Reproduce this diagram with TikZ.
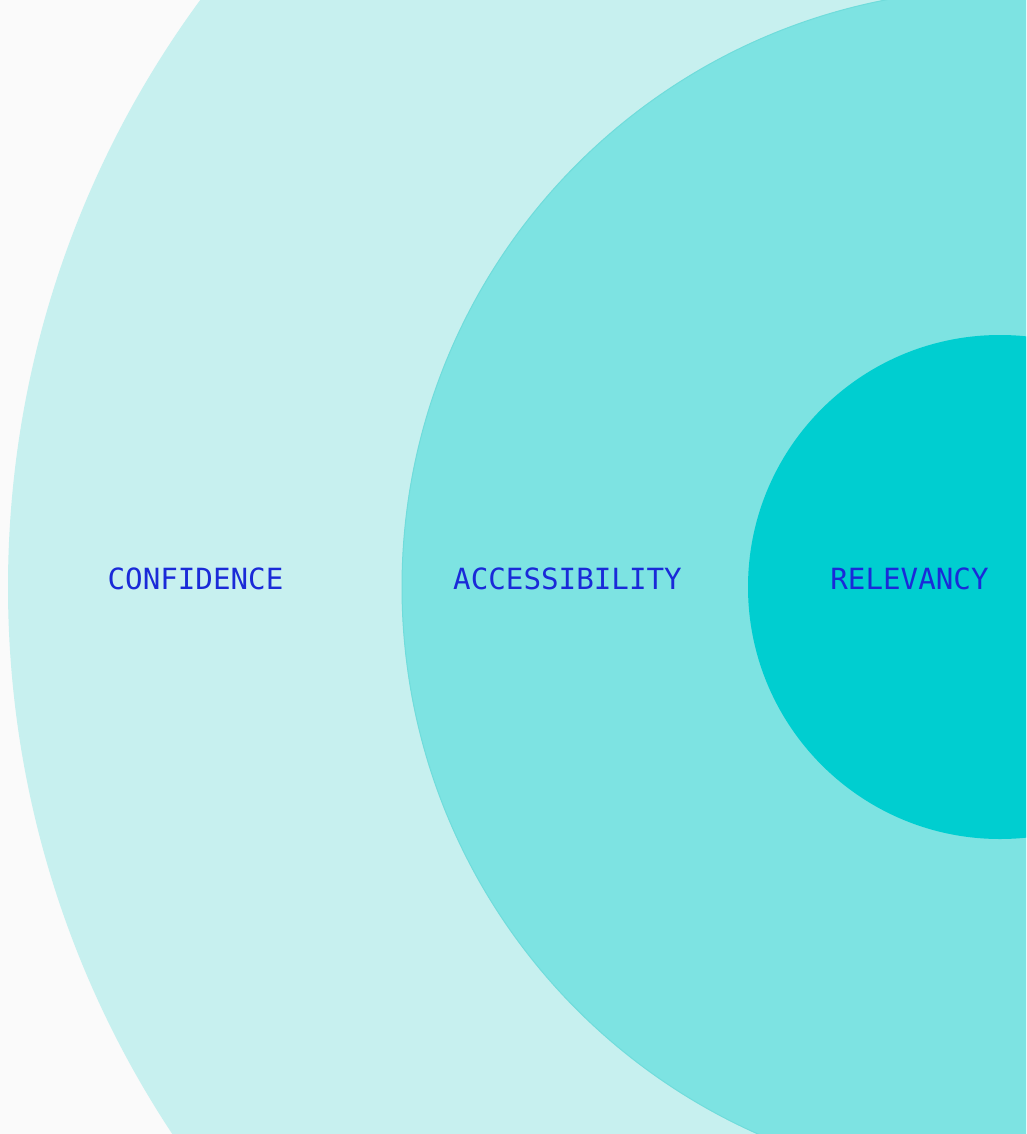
\documentclass[tikz,border=0pt]{standalone}
\usepackage{fontspec}
\setmonofont{DejaVu Sans Mono}
\definecolor{bgcol}{HTML}{FAFAFA}
\definecolor{ring1}{HTML}{C7F0EF}
\definecolor{ring2}{HTML}{7DE3E2}
\definecolor{ring2edge}{HTML}{70DCDB}
\definecolor{ring3}{HTML}{00CED0}
\definecolor{labcol}{HTML}{1A2AD8}
\tikzset{lab/.style={anchor=base, text=labcol, font=\ttfamily\fontsize{29.2}{31}\selectfont, inner sep=0pt}}
\begin{document}
\begin{tikzpicture}[x=1pt,y=-1pt]
\useasboundingbox (0,0) rectangle (1026,1134);
\clip (0,0) rectangle (1026,1134);
\fill[bgcol] (0,0) rectangle (1026,1134);
\coordinate (c) at (1000,587);
\fill[ring1] (c) circle[radius=992pt];
\fill[ring2, draw=ring2edge, line width=1pt] (c) circle[radius=598pt];
\fill[ring3] (c) circle[radius=252pt];
\node[lab] (conf) at (195.5,589) {CONFIDENCE};
\node[lab] (acc) at (567.5,589) {ACCESSIBILITY};
\node[lab] (rel) at (909.5,589) {RELEVANCY};
\end{tikzpicture}
\end{document}
